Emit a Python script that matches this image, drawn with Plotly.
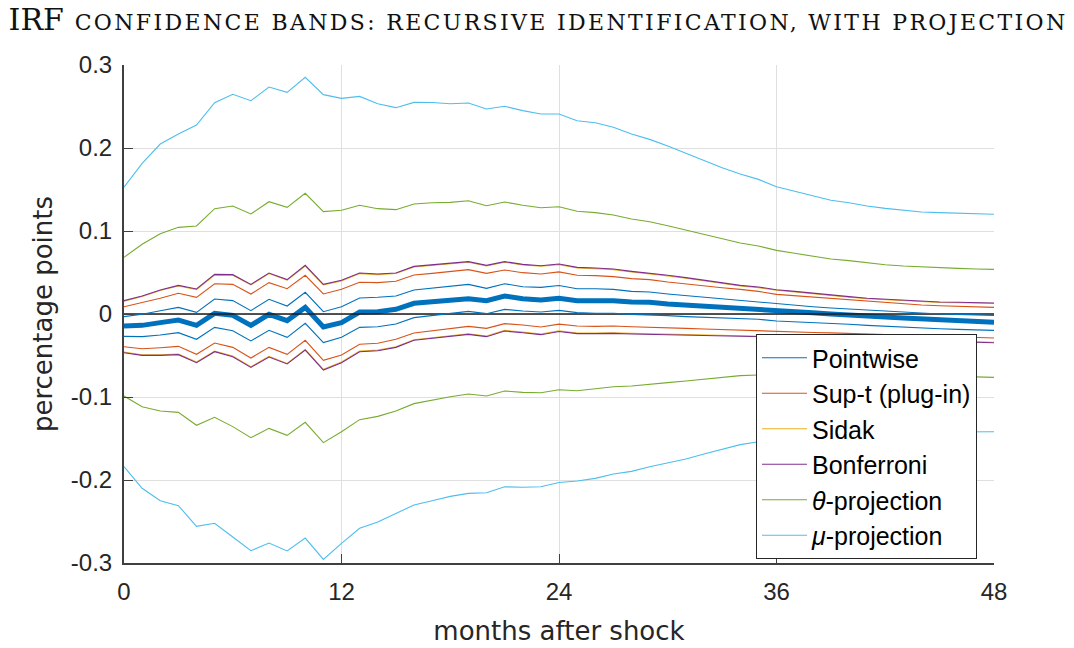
import plotly.graph_objects as go

months = list(range(49))

point_est = [-0.0145,-0.0137,-0.0104,-0.0072,-0.0137,0.0008,-0.0016,-0.0137,-0.0004,-0.0080,0.0080,-0.0157,-0.0104,0.0024,0.0028,0.0056,0.0129,0.0149,0.0169,0.0185,0.0161,0.0217,0.0185,0.0169,0.0191,0.0161,0.0161,0.0161,0.0145,0.0141,0.0120,0.0108,0.0096,0.0080,0.0068,0.0064,0.0040,0.0032,0.0016,0.0000,-0.0008,-0.0024,-0.0036,-0.0048,-0.0060,-0.0072,-0.0080,-0.0088,-0.0100]

pointwise_up = [-0.0032,-0.0004,0.0040,0.0080,0.0020,0.0181,0.0161,0.0040,0.0177,0.0096,0.0261,0.0028,0.0088,0.0193,0.0201,0.0217,0.0289,0.0309,0.0329,0.0357,0.0309,0.0365,0.0329,0.0321,0.0343,0.0305,0.0305,0.0297,0.0273,0.0265,0.0241,0.0221,0.0201,0.0181,0.0161,0.0145,0.0120,0.0108,0.0088,0.0072,0.0060,0.0044,0.0032,0.0020,0.0008,0.0000,-0.0004,-0.0012,-0.0016]
pointwise_lo = [-0.0269,-0.0273,-0.0253,-0.0225,-0.0305,-0.0161,-0.0201,-0.0325,-0.0197,-0.0281,-0.0112,-0.0345,-0.0281,-0.0161,-0.0153,-0.0120,-0.0044,-0.0020,0.0000,0.0032,0.0004,0.0056,0.0036,0.0024,0.0044,0.0016,0.0008,0.0008,-0.0004,-0.0008,-0.0020,-0.0032,-0.0040,-0.0048,-0.0056,-0.0064,-0.0084,-0.0092,-0.0104,-0.0116,-0.0124,-0.0137,-0.0149,-0.0161,-0.0169,-0.0177,-0.0185,-0.0193,-0.0197]

supt_up = [0.0088,0.0137,0.0189,0.0249,0.0201,0.0365,0.0357,0.0241,0.0378,0.0305,0.0466,0.0241,0.0297,0.0382,0.0378,0.0394,0.0470,0.0490,0.0510,0.0534,0.0490,0.0530,0.0498,0.0482,0.0508,0.0466,0.0462,0.0450,0.0426,0.0414,0.0386,0.0361,0.0337,0.0317,0.0297,0.0273,0.0237,0.0221,0.0201,0.0181,0.0169,0.0149,0.0137,0.0124,0.0108,0.0100,0.0092,0.0084,0.0080]
supt_lo = [-0.0394,-0.0418,-0.0406,-0.0390,-0.0486,-0.0349,-0.0402,-0.0530,-0.0402,-0.0486,-0.0317,-0.0558,-0.0494,-0.0365,-0.0353,-0.0305,-0.0229,-0.0205,-0.0177,-0.0149,-0.0173,-0.0116,-0.0133,-0.0157,-0.0122,
           -0.0145,-0.0149,-0.0145,-0.0153,-0.0157,-0.0165,-0.0173,-0.0181,-0.0189,-0.0195,-0.0200,-0.0210,
           -0.0216,-0.0222,-0.0228,-0.0235,-0.0242,-0.0250,-0.0257,-0.0264,-0.0271,-0.0278,-0.0284,-0.0290]

sidak_up = [0.0154,0.0210,0.0282,0.0338,0.0294,0.0470,0.0467,0.0350,0.0487,0.0407,0.0578,0.0350,0.0399,0.0487,0.0475,0.0487,0.0567,0.0587,0.0603,0.0624,0.0579,0.0624,0.0591,0.0575,0.0595,0.0555,0.0547,0.0535,0.0507,0.0487,0.0459,0.0431,0.0399,0.0366,0.0338,0.0318,0.0286,0.0266,0.0242,0.0222,0.0202,0.0183,0.0171,0.0159,0.0147,0.0139,0.0135,0.0131,0.0127]
sidak_lo = [-0.0459,-0.0491,-0.0491,-0.0483,-0.0579,-0.0447,-0.0507,-0.0635,-0.0511,-0.0595,-0.0427,-0.0667,-0.0579,-0.0447,-0.0435,-0.0395,-0.0310,-0.0286,-0.0266,-0.0238,-0.0266,-0.0198,-0.0218,-0.0242,-0.0204,
            -0.0230,-0.0230,-0.0226,-0.0234,-0.0238,-0.0242,-0.0246,-0.0250,-0.0254,-0.0258,-0.0261,-0.0268,
            -0.0274,-0.0280,-0.0286,-0.0292,-0.0299,-0.0305,-0.0311,-0.0317,-0.0323,-0.0329,-0.0335,-0.0340]

bonf_up = [0.0161,0.0217,0.0289,0.0345,0.0301,0.0478,0.0474,0.0357,0.0494,0.0414,0.0586,0.0357,0.0406,0.0494,0.0482,0.0494,0.0574,0.0594,0.0610,0.0631,0.0586,0.0631,0.0598,0.0582,0.0602,0.0562,0.0554,0.0542,0.0514,0.0494,0.0466,0.0438,0.0406,0.0373,0.0345,0.0325,0.0293,0.0273,0.0249,0.0229,0.0209,0.0189,0.0177,0.0165,0.0153,0.0145,0.0141,0.0137,0.0133]
bonf_lo = [-0.0466,-0.0498,-0.0498,-0.0490,-0.0586,-0.0454,-0.0514,-0.0643,-0.0518,-0.0602,-0.0434,-0.0675,-0.0586,-0.0454,-0.0442,-0.0402,-0.0317,-0.0293,-0.0273,-0.0245,-0.0273,-0.0205,-0.0225,-0.0249,-0.0211,
           -0.0237,-0.0237,-0.0233,-0.0241,-0.0245,-0.0249,-0.0253,-0.0257,-0.0261,-0.0265,-0.0268,-0.0275,
           -0.0281,-0.0287,-0.0293,-0.0299,-0.0306,-0.0312,-0.0318,-0.0324,-0.0330,-0.0336,-0.0342,-0.0347]

theta_up = [0.0683,0.0840,0.0968,0.1044,0.1060,0.1269,0.1301,0.1205,0.1353,0.1285,0.1454,0.1233,0.1249,0.1310,0.1269,0.1257,0.1325,0.1341,0.1345,0.1365,0.1305,0.1349,0.1310,0.1281,0.1293,0.1237,0.1221,0.1193,0.1145,0.1112,0.1064,0.1012,0.0968,0.0908,0.0855,0.0819,0.0767,0.0731,0.0695,0.0663,0.0643,0.0614,0.0594,0.0578,0.0566,0.0558,0.0550,0.0542,0.0538]
theta_lo = [-0.0988,-0.1117,-0.1169,-0.1185,-0.1341,-0.1245,-0.1357,-0.1490,-0.1378,-0.1462,-0.1305,-0.1550,-0.1418,-0.1273,-0.1233,-0.1169,-0.1080,-0.1036,-0.0996,-0.0964,-0.0988,-0.0928,-0.0944,-0.0948,-0.0912,
            -0.0924,-0.0900,-0.0876,-0.0867,-0.0843,-0.0827,-0.0807,-0.0787,-0.0763,-0.0743,
            -0.0735,-0.0730,-0.0727,-0.0726,-0.0727,-0.0729,-0.0732,-0.0735,-0.0739,-0.0743,-0.0747,-0.0752,-0.0757,-0.0763]

mu_up = [0.1527,0.1815,0.2048,0.2169,0.2277,0.2546,0.2647,0.2570,0.2735,0.2671,0.2852,0.2643,0.2598,0.2622,0.2534,0.2486,0.2550,0.2549,0.2534,0.2542,0.2470,0.2502,0.2450,0.2410,0.2410,0.2329,0.2305,0.2249,0.2169,0.2104,0.2024,0.1936,0.1855,0.1763,0.1687,0.1622,0.1534,0.1478,0.1422,0.1370,0.1341,0.1301,0.1273,0.1253,0.1229,0.1221,0.1213,0.1205,0.1201]
mu_lo = [-0.1840,-0.2100,-0.2249,-0.2309,-0.2558,-0.2522,-0.2687,-0.2852,-0.2759,-0.2855,-0.2699,-0.2956,-0.2763,-0.2582,-0.2506,-0.2402,-0.2301,-0.2249,-0.2197,-0.2161,-0.2153,-0.2081,-0.2088,-0.2081,-0.2030,
         -0.2012,-0.1980,-0.1928,-0.1896,-0.1840,-0.1792,-0.1747,-0.1687,-0.1630,-0.1574,
         -0.1540,-0.1512,-0.1490,-0.1472,-0.1458,-0.1447,-0.1439,-0.1432,-0.1427,-0.1424,-0.1422,-0.1420,-0.1419,-0.1418]

zero_line = [0.0] * 49

band_names = ["Pointwise", "Sup-t (plug-in)", "Sidak", "Bonferroni",
              "<i>θ</i>-projection", "<i>μ</i>-projection"]
band_colors = ["#0072BD", "#D95319", "#EDB120", "#7E2F8E", "#77AC30", "#4DBEEE"]
bands = [(pointwise_up, pointwise_lo), (supt_up, supt_lo), (sidak_up, sidak_lo),
         (bonf_up, bonf_lo), (theta_up, theta_lo), (mu_up, mu_lo)]

x_ticks = [0, 12, 24, 36, 48]
y_ticks = [-0.3, -0.2, -0.1, 0, 0.1, 0.2, 0.3]
y_ticktext = ["-0.3", "-0.2", "-0.1", "0", "0.1", "0.2", "0.3"]

fig = go.Figure()

fig.add_trace(go.Scatter(x=months, y=point_est, mode="lines",
                         line=dict(color="#0072BD", width=5), showlegend=False,
                         hoverinfo="skip"))
fig.add_trace(go.Scatter(x=months, y=zero_line, mode="lines",
                         line=dict(color="#1a1a1a", width=1.3), showlegend=False,
                         hoverinfo="skip"))

for name, color, (up, lo) in zip(band_names, band_colors, bands):
    fig.add_trace(go.Scatter(x=months, y=up, mode="lines", name=name,
                             line=dict(color=color, width=1.1)))
    fig.add_trace(go.Scatter(x=months, y=lo, mode="lines", name=name,
                             showlegend=False, line=dict(color=color, width=1.1)))

tick_font = dict(family="Liberation Sans, Arial, sans-serif", size=24, color="#262626")
title_font = dict(family="DejaVu Sans, sans-serif", size=26, color="#262626")

title_text = ("<span style='font-size:30px'>IRF</span>  "
              "<span style='font-size:22px;letter-spacing:2.35px'>CONFIDENCE BANDS: RECURSIVE IDENTIFICATION, WITH PROJECTION</span>")

fig.update_layout(
    width=1074, height=648,
    margin=dict(l=124, r=80, t=65, b=85),
    paper_bgcolor="white", plot_bgcolor="white",
    title=dict(text=title_text, x=0.008, xanchor="left", xref="container",
               y=1 - 24 / 648, yanchor="middle", yref="container",
               font=dict(family="DejaVu Serif, serif", color="#111111")),
    xaxis=dict(range=[0, 48], tickvals=x_ticks, ticktext=[str(t) for t in x_ticks],
               showgrid=True, gridcolor="#dfdfdf", gridwidth=1,
               showline=True, linecolor="#404040", linewidth=2,
               ticks="inside", ticklen=9, tickcolor="#404040", tickwidth=1,
               ticklabelstandoff=6, automargin=False,
               zeroline=False, tickfont=tick_font,
               title=dict(text="months after shock", standoff=18, font=title_font)),
    yaxis=dict(range=[-0.3, 0.3], tickvals=y_ticks, ticktext=y_ticktext,
               showgrid=True, gridcolor="#dfdfdf", gridwidth=1,
               showline=True, linecolor="#404040", linewidth=2,
               ticks="inside", ticklen=9, tickcolor="#404040", tickwidth=1,
               ticklabelstandoff=5, automargin=False,
               zeroline=False, tickfont=tick_font,
               title=dict(text="percentage points", standoff=11, font=title_font)),
    legend=dict(x=0.7264, y=0.4598, xanchor="left", yanchor="top",
                bgcolor="white", bordercolor="#262626", borderwidth=1,
                font=dict(family="Liberation Sans, Arial, sans-serif", size=25, color="#000000"),
                itemwidth=45, tracegroupgap=0),
)

fig.write_html("out.html")
